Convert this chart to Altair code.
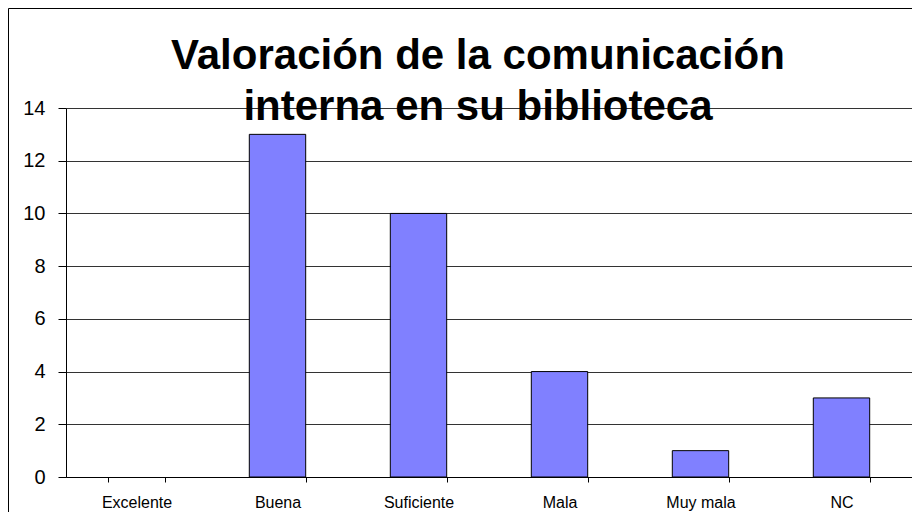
import altair as alt
import pandas as pd

categories = ["Excelente", "Buena", "Suficiente", "Mala", "Muy mala", "NC"]
values = [0, 13, 10, 4, 1, 3]
y_ticks = [0, 2, 4, 6, 8, 10, 12, 14]
title_lines = ["Valoración de la comunicación", "interna en su biblioteca"]

df = pd.DataFrame({"cat": categories, "val": values})

FONT = "Liberation Sans"
W, H = 846, 369

bars = alt.Chart(df).mark_bar(
    color="#8080FF", stroke="#000000", strokeWidth=1
).encode(
    x=alt.X("cat:N", sort=categories, title=None,
            scale=alt.Scale(paddingInner=0.6, paddingOuter=0.3),
            axis=alt.Axis(labelAngle=0, tickBand="extent", labelFontSize=16,
                          labelFont=FONT, labelColor="#000", labelPadding=12,
                          tickSize=5, tickColor="#000", domainColor="#000",
                          grid=False)),
    y=alt.Y("val:Q", title=None,
            scale=alt.Scale(domain=[0, 14], nice=False),
            axis=alt.Axis(values=y_ticks, labelFontSize=20, labelFont=FONT,
                          labelColor="#000", labelPadding=13, tickSize=8,
                          tickColor="#000", domainColor="#000",
                          grid=True, gridColor="#333333", gridWidth=1)),
    strokeOpacity=alt.condition("datum.val == 0", alt.value(0), alt.value(1)),
)

title_df = pd.DataFrame({"t": ["\n".join(title_lines)]})
title = alt.Chart(title_df).mark_text(
    font=FONT, fontSize=42, fontWeight="bold", lineBreak="\n",
    lineHeight=51, align="center", baseline="alphabetic", color="#000"
).encode(
    text="t:N", x=alt.value(412), y=alt.value(-39)
)

frame = alt.Chart(title_df).mark_rect(
    fill=None, stroke="#000", strokeWidth=1
).encode(
    x=alt.value(-57.5), x2=alt.value(900), y=alt.value(-99.5), y2=alt.value(420)
)

chart = alt.layer(bars, title, frame).properties(
    width=W, height=H,
    autosize=alt.AutoSizeParams(type="none"),
    padding={"left": 58, "top": 100, "right": 0, "bottom": 35},
).configure_view(stroke=None).configure(background="white")

chart.save("out.html", embed_options={"renderer": "svg", "actions": False})
